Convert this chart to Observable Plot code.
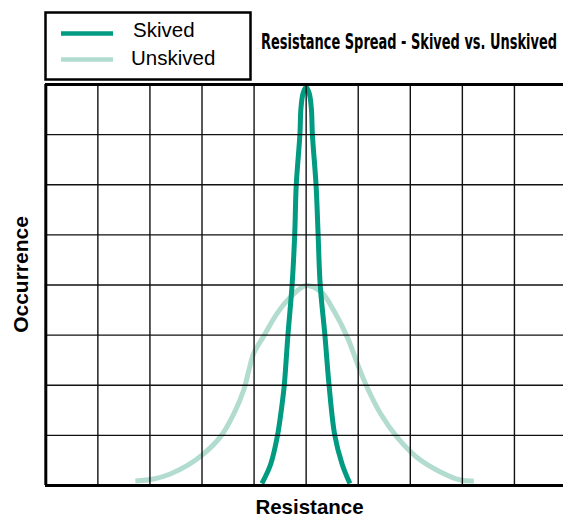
<!DOCTYPE html>
<html><head><meta charset="utf-8">
<script src="https://cdn.jsdelivr.net/npm/d3@7"></script>
<script src="https://cdn.jsdelivr.net/npm/@observablehq/plot@0.6"></script>
<style>
body{margin:0;background:#fff}
#chart{width:563px;height:516px;position:relative;overflow:hidden}
</style>
</head><body><div id="chart"></div>
<script>
// ---- data ----
const seriesNames = ["Skived", "Unskived"];
const seriesColors = ["#009b80", "#b3dcd0"];
const titleText = "Resistance Spread - Skived vs. Unskived";
const xLabel = "Resistance";
const yLabel = "Occurrence";
const xGridTicks = [1, 2, 3, 4, 5, 6, 7, 8, 9, 10];
const yGridTicks = [1, 2, 3, 4, 5, 6, 7];

const skivedX = [4.15, 4.32, 4.45, 4.54, 4.58, 4.65, 4.73, 4.78, 4.81, 4.88, 4.90, 4.94, 5.00, 5.06, 5.10, 5.12, 5.19, 5.23, 5.27, 5.36, 5.44, 5.55, 5.69, 5.84];
const skivedY = [0.04, 0.43, 1.00, 1.64, 2.00, 3.00, 4.00, 5.00, 6.00, 7.00, 7.52, 7.82, 7.95, 7.82, 7.52, 7.00, 6.00, 5.00, 4.00, 3.00, 2.00, 1.00, 0.43, 0.04];

const unskivedX = [1.72, 2.07, 2.39, 2.72, 3.03, 3.36, 3.61, 3.80, 3.90, 3.99, 4.19, 4.44, 4.70, 5.00, 5.29, 5.53, 5.79, 6.01, 6.17, 6.43, 6.75, 7.13, 7.58, 7.96, 8.22];
const unskivedY = [0.09, 0.13, 0.23, 0.40, 0.63, 0.98, 1.43, 1.90, 2.30, 2.63, 2.99, 3.43, 3.76, 3.99, 3.86, 3.49, 2.96, 2.36, 1.96, 1.43, 0.96, 0.56, 0.27, 0.11, 0.09];

const skived = skivedX.map((x, i) => ({series: "Skived", x, y: skivedY[i]}));
const unskived = unskivedX.map((x, i) => ({series: "Unskived", x, y: unskivedY[i]}));

const FONT = "Liberation Sans, Arial, Helvetica, sans-serif";

const plot = Plot.plot({
  width: 563, height: 516,
  marginTop: 84, marginBottom: 31, marginLeft: 45, marginRight: 0,
  x: {domain: [0, 10], range: [45.3, 566], axis: null},
  y: {domain: [0, 8], range: [485, 84], axis: null},
  color: {domain: seriesNames, range: seriesColors},
  style: {background: "#fff", overflow: "hidden", fontFamily: FONT},
  marks: [
    Plot.line(unskived, {x: "x", y: "y", stroke: "series", strokeWidth: 5, curve: "catmull-rom", strokeLinecap: "butt"}),
    Plot.line(skived, {x: "x", y: "y", stroke: "series", strokeWidth: 5, curve: "catmull-rom", strokeLinecap: "butt"}),
    Plot.ruleX(xGridTicks, {stroke: "#111", strokeWidth: 1.4}),
    Plot.ruleY(yGridTicks, {stroke: "#111", strokeWidth: 1.4}),
    Plot.ruleX([0], {stroke: "#000", strokeWidth: 3}),
    Plot.ruleY([0, 8], {stroke: "#000", strokeWidth: 3}),
    Plot.text([xLabel], {frameAnchor: "bottom", textAnchor: "middle", lineAnchor: "bottom", dy: 28.5, dx: 5, fontSize: 20.5, fontWeight: "bold", fill: "#000"}),
    Plot.text([yLabel], {frameAnchor: "left", textAnchor: "middle", lineAnchor: "bottom", rotate: -90, dx: -17.7, dy: -10.5, fontSize: 21, fontWeight: "bold", fill: "#000"})
  ]
});

document.getElementById("chart").appendChild(plot);

// legend and title
const svg = d3.select(plot);
const g = svg.append("g").attr("text-anchor", "start");
g.append("rect").attr("x", 45.5).attr("y", 12.5).attr("width", 205).attr("height", 67)
  .attr("fill", "#fff").attr("stroke", "#000").attr("stroke-width", 2.5);
const legLineY = [33.5, 59.5];
const legTextY = [37, 65];
seriesNames.forEach((name, i) => {
  g.append("line").attr("x1", 61).attr("x2", 113).attr("y1", legLineY[i]).attr("y2", legLineY[i])
    .attr("stroke", seriesColors[i]).attr("stroke-width", 4.5);
  g.append("text").attr("x", i === 0 ? 133 : 131).attr("y", legTextY[i])
    .attr("text-anchor", "start")
    .attr("font-family", FONT).attr("font-size", 20.5).attr("fill", "#000").text(name);
});
g.append("text").attr("x", 261).attr("y", 49)
  .attr("text-anchor", "start")
  .attr("font-family", "Liberation Sans Narrow, DejaVu Sans Condensed, Arial Narrow, sans-serif")
  .attr("font-weight", "bold").attr("font-size", 21).attr("fill", "#000")
  .attr("textLength", 296).attr("lengthAdjust", "spacingAndGlyphs")
  .text(titleText);
</script>
</body></html>
